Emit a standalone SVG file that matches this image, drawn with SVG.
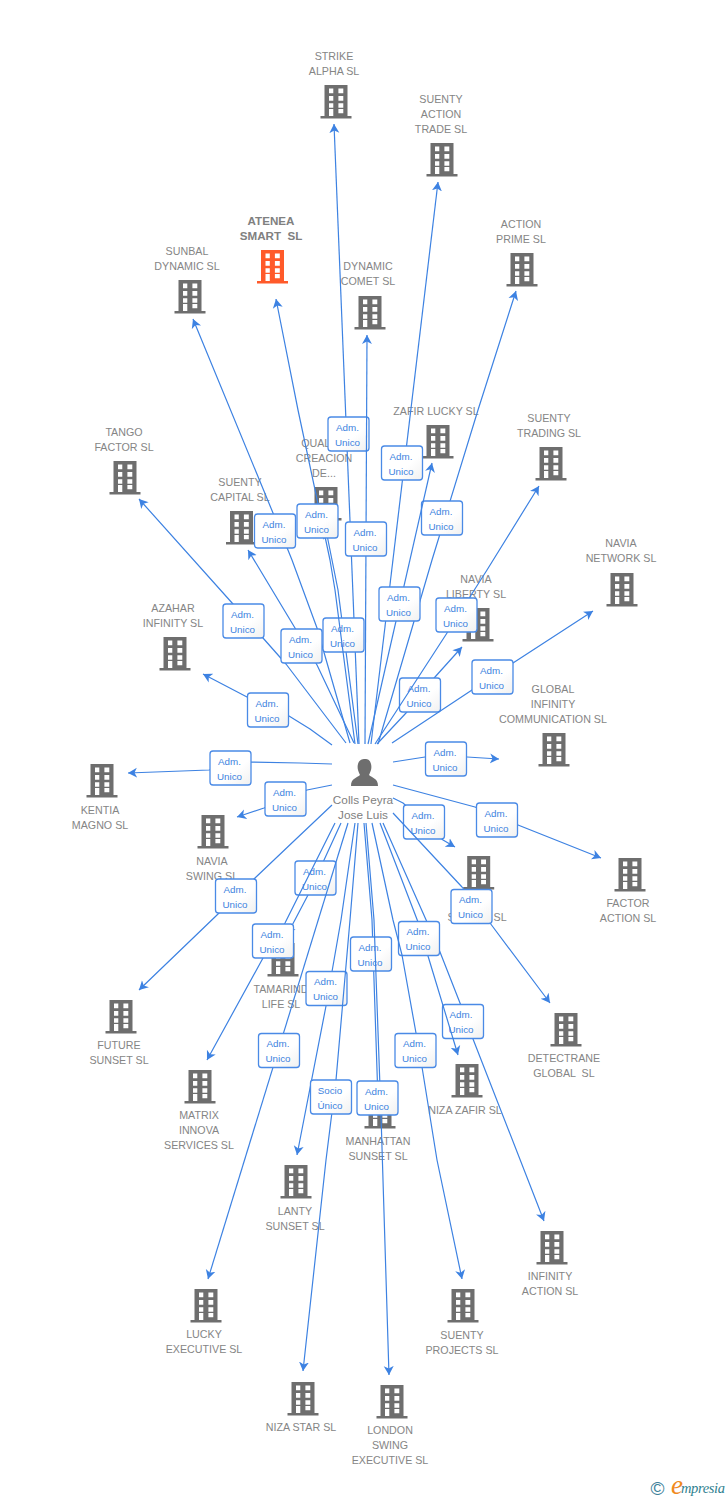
<svg xmlns="http://www.w3.org/2000/svg" width="728" height="1500" viewBox="0 0 728 1500">
<style>
text{font-family:"Liberation Sans",Arial,sans-serif}
.n{font-size:10.7px;fill:#858585;text-anchor:middle}
.b{font-size:11.6px;font-weight:bold;fill:#808080;text-anchor:middle;white-space:pre}
.d{font-size:10.7px;fill:#858585;text-anchor:middle;white-space:pre}
.p{font-size:11.8px;fill:#808080;text-anchor:middle}
.e{fill:none;stroke:#3d82e2;stroke-width:1.2;stroke-linejoin:round;marker-end:url(#a)}
.l rect{fill:url(#g);stroke:#4a8ae6;stroke-width:1.3}
.l text{font-size:9.8px;fill:#4083e0;text-anchor:middle}
.i{fill:#6e6e6e}
.o{fill:#ff5a2a}
</style>
<defs>
<marker id="a" markerUnits="userSpaceOnUse" markerWidth="12" markerHeight="12" viewBox="0 0 12 12" refX="9" refY="6" orient="auto"><path d="M9,6 L0,1 L2.5,6 L0,11 Z" fill="#3d82e2"/></marker>
<linearGradient id="g" x1="0" y1="0" x2="1" y2="1"><stop offset="0" stop-color="#fff"/><stop offset="0.6" stop-color="#fff"/><stop offset="1" stop-color="#f0f0f0"/></linearGradient>
<path id="h" fill-rule="evenodd" d="M-11.5,0H11.5V31H15.5V33.5H-15.5V31H-11.5ZM-7,3.5V8.3H-2.7V3.5ZM2.4,3.5V8.3H7.3V3.5ZM-7,11V15.7H-2.7V11ZM2.4,11V15.7H7.3V11ZM-7,18.3V22.7H-2.7V18.3ZM2.4,18.3V22.7H7.3V18.3ZM-7,24V31H-2.7V24ZM2.4,24V28.2H7.3V24Z"/>
</defs>
<rect width="728" height="1500" fill="#fff"/>
<g id="nodes">
<g id="n-strike"><use href="#h" class="i" x="336" y="85"/><text class="n" x="334" y="60">STRIKE</text><text class="n" x="334" y="75">ALPHA SL</text></g>
<g id="n-action-trade"><use href="#h" class="i" x="442" y="143"/><text class="n" x="441" y="103">SUENTY</text><text class="n" x="441" y="118">ACTION</text><text class="n" x="441" y="133">TRADE SL</text></g>
<g id="n-action-prime"><use href="#h" class="i" x="522" y="253"/><text class="n" x="521" y="228">ACTION</text><text class="n" x="521" y="243">PRIME SL</text></g>
<g id="n-atenea"><use href="#h" class="o" x="272.500" y="250"/><text class="b" x="271" y="225">ATENEA</text><text class="b" x="271" y="240">SMART  SL</text></g>
<g id="n-comet"><use href="#h" class="i" x="370" y="296"/><text class="n" x="368" y="270">DYNAMIC</text><text class="n" x="368" y="285">COMET SL</text></g>
<g id="n-sunbal"><use href="#h" class="i" x="190" y="280"/><text class="n" x="187" y="255">SUNBAL</text><text class="n" x="187" y="270">DYNAMIC SL</text></g>
<g id="n-zafir-lucky"><use href="#h" class="i" x="438" y="425"/><text class="n" x="436" y="415">ZAFIR LUCKY SL</text></g>
<g id="n-trading"><use href="#h" class="i" x="551" y="447"/><text class="n" x="549" y="422">SUENTY</text><text class="n" x="549" y="437">TRADING SL</text></g>
<g id="n-tango"><use href="#h" class="i" x="125" y="461"/><text class="n" x="124" y="436">TANGO</text><text class="n" x="124" y="451">FACTOR SL</text></g>
<g id="n-capital"><use href="#h" class="i" x="241.500" y="511"/><text class="n" x="240" y="486">SUENTY</text><text class="n" x="240" y="501">CAPITAL SL</text></g>
<g id="n-quality"><use href="#h" class="i" x="326" y="487"/><text class="n" x="324" y="447">QUALITY</text><text class="n" x="324" y="462">CREACION</text><text class="n" x="324" y="477">DE...</text></g>
<g id="n-network"><use href="#h" class="i" x="622" y="573"/><text class="n" x="621" y="547">NAVIA</text><text class="n" x="621" y="562">NETWORK SL</text></g>
<g id="n-liberty"><use href="#h" class="i" x="478" y="608"/><text class="n" x="476" y="583">NAVIA</text><text class="n" x="476" y="598">LIBERTY SL</text></g>
<g id="n-azahar"><use href="#h" class="i" x="175" y="637"/><text class="n" x="173" y="612">AZAHAR</text><text class="n" x="173" y="627">INFINITY SL</text></g>
<g id="n-global"><use href="#h" class="i" x="554" y="733"/><text class="n" x="553" y="693">GLOBAL</text><text class="n" x="553" y="708">INFINITY</text><text class="n" x="553" y="723">COMMUNICATION SL</text></g>
<g id="n-kentia"><use href="#h" class="i" x="102" y="764"/><text class="n" x="100" y="814">KENTIA</text><text class="n" x="100" y="829">MAGNO SL</text></g>
<g id="n-swing"><use href="#h" class="i" x="213" y="815"/><text class="n" x="212" y="865">NAVIA</text><text class="n" x="212" y="880">SWING SL</text></g>
<g id="n-factor"><use href="#h" class="i" x="630" y="858"/><text class="n" x="628" y="907">FACTOR</text><text class="n" x="628" y="922">ACTION SL</text></g>
<g id="n-suenty"><use href="#h" class="i" x="478.700" y="856"/><text class="n" x="477" y="921">SUENTY SL</text></g>
<g id="n-detectrane"><use href="#h" class="i" x="566" y="1013"/><text class="d" x="564" y="1062">DETECTRANE</text><text class="d" x="564" y="1077">GLOBAL  SL</text></g>
<g id="n-future"><use href="#h" class="i" x="121" y="1000"/><text class="n" x="119" y="1049">FUTURE</text><text class="n" x="119" y="1064">SUNSET SL</text></g>
<g id="n-matrix"><use href="#h" class="i" x="200" y="1070"/><text class="n" x="199" y="1119">MATRIX</text><text class="n" x="199" y="1134">INNOVA</text><text class="n" x="199" y="1149">SERVICES SL</text></g>
<g id="n-tamarind"><use href="#h" class="i" x="283" y="943"/><text class="n" x="281" y="993">TAMARIND</text><text class="n" x="281" y="1008">LIFE SL</text></g>
<g id="n-niza-zafir"><use href="#h" class="i" x="467" y="1064"/><text class="n" x="465" y="1114">NIZA ZAFIR SL</text></g>
<g id="n-manhattan"><use href="#h" class="i" x="380" y="1095"/><text class="n" x="378" y="1145">MANHATTAN</text><text class="n" x="378" y="1160">SUNSET SL</text></g>
<g id="n-lanty"><use href="#h" class="i" x="296" y="1165"/><text class="n" x="295" y="1215">LANTY</text><text class="n" x="295" y="1230">SUNSET SL</text></g>
<g id="n-infinity"><use href="#h" class="i" x="552" y="1231"/><text class="n" x="550" y="1280">INFINITY</text><text class="n" x="550" y="1295">ACTION SL</text></g>
<g id="n-lucky"><use href="#h" class="i" x="206" y="1289"/><text class="n" x="204" y="1338">LUCKY</text><text class="n" x="204" y="1353">EXECUTIVE SL</text></g>
<g id="n-projects"><use href="#h" class="i" x="463" y="1289"/><text class="n" x="462" y="1339">SUENTY</text><text class="n" x="462" y="1354">PROJECTS SL</text></g>
<g id="n-niza-star"><use href="#h" class="i" x="303" y="1382"/><text class="n" x="301" y="1431">NIZA STAR SL</text></g>
<g id="n-london"><use href="#h" class="i" x="392" y="1385"/><text class="n" x="390" y="1434">LONDON</text><text class="n" x="390" y="1449">SWING</text><text class="n" x="390" y="1464">EXECUTIVE SL</text></g>
<g id="n-person"><path class="i" d="M351,786C351,778 357,778 360,775C358,771 357,768 358,764C359,760 362,759 365,759C368,759 370,760 371,764C372,768 371,771 369,775C372,778 378,778 378,786Z"/><text class="p" x="363" y="804">Colls Peyra</text><text class="p" x="363" y="819">Jose Luis</text></g>
</g>
<g id="connectors">
<path class="e" d="M359,744L334,124"/>
<g class="l"><rect x="328" y="417" width="41" height="34" rx="3"/><text x="347.500" y="430.500">Adm.</text><text x="347.500" y="445.500">Unico</text></g>
<path class="e" d="M371,744L438,182"/>
<g class="l"><rect x="381.500" y="446" width="41" height="34" rx="3"/><text x="401" y="459.500">Adm.</text><text x="401" y="474.500">Unico</text></g>
<path class="e" d="M378,744L432,560L478,410L516,291"/>
<g class="l"><rect x="421.500" y="501" width="41" height="34" rx="3"/><text x="441" y="514.500">Adm.</text><text x="441" y="529.500">Unico</text></g>
<path class="e" d="M350,743L317,628L292,560L273,513L193,319"/>
<g class="l"><rect x="254.500" y="514" width="41" height="34" rx="3"/><text x="274" y="527.500">Adm.</text><text x="274" y="542.500">Unico</text></g>
<path class="e" d="M365,744L367,335"/>
<g class="l"><rect x="345.500" y="522" width="41" height="34" rx="3"/><text x="365" y="535.500">Adm.</text><text x="365" y="550.500">Unico</text></g>
<path class="e" d="M368,744L432,463"/>
<g class="l"><rect x="379" y="587" width="41" height="34" rx="3"/><text x="398.500" y="600.500">Adm.</text><text x="398.500" y="615.500">Unico</text></g>
<path class="e" d="M346,743L286,664L263,638L233,604L139,499"/>
<g class="l"><rect x="223" y="604" width="41" height="34" rx="3"/><text x="242.500" y="617.500">Adm.</text><text x="242.500" y="632.500">Unico</text></g>
<path class="e" d="M354,743L317,665L295,628L248,550"/>
<g class="l"><rect x="281" y="629" width="41" height="34" rx="3"/><text x="300.500" y="642.500">Adm.</text><text x="300.500" y="657.500">Unico</text></g>
<path class="e" d="M358,744L338,590L326,530"/>
<g class="l"><rect x="323" y="618" width="41" height="34" rx="3"/><text x="342.500" y="631.500">Adm.</text><text x="342.500" y="646.500">Unico</text></g>
<path class="e" d="M355,744L335,590L330,560L298,410L276,299"/>
<g class="l"><rect x="297" y="504" width="41" height="34" rx="3"/><text x="316.500" y="517.500">Adm.</text><text x="316.500" y="532.500">Unico</text></g>
<path class="e" d="M377,744L406,713L435,677L462,647"/>
<g class="l"><rect x="399.500" y="678" width="41" height="34" rx="3"/><text x="419" y="691.500">Adm.</text><text x="419" y="706.500">Unico</text></g>
<path class="e" d="M375,744L447,633L487,570L539,486"/>
<g class="l"><rect x="436" y="598" width="41" height="34" rx="3"/><text x="455.500" y="611.500">Adm.</text><text x="455.500" y="626.500">Unico</text></g>
<path class="e" d="M392,743L472,690L513,663L593,611"/>
<g class="l"><rect x="472" y="660" width="41" height="34" rx="3"/><text x="491.500" y="673.500">Adm.</text><text x="491.500" y="688.500">Unico</text></g>
<path class="e" d="M332,745L310,729L289,716L247,697L203,674"/>
<g class="l"><rect x="247.500" y="693" width="41" height="34" rx="3"/><text x="267" y="706.500">Adm.</text><text x="267" y="721.500">Unico</text></g>
<path class="e" d="M393,762L425,757L467,757L499,759"/>
<g class="l"><rect x="425.500" y="742" width="41" height="34" rx="3"/><text x="445" y="755.500">Adm.</text><text x="445" y="770.500">Unico</text></g>
<path class="e" d="M332,764L300,763L250,762L209,770L128,773"/>
<g class="l"><rect x="210" y="751" width="41" height="34" rx="3"/><text x="229.500" y="764.500">Adm.</text><text x="229.500" y="779.500">Unico</text></g>
<path class="e" d="M332,785L307,790L264,808L237,817"/>
<g class="l"><rect x="265" y="782" width="41" height="34" rx="3"/><text x="284.500" y="795.500">Adm.</text><text x="284.500" y="810.500">Unico</text></g>
<path class="e" d="M393,785L475,807L518,825L601,858"/>
<g class="l"><rect x="476.500" y="803" width="41" height="34" rx="3"/><text x="496" y="816.500">Adm.</text><text x="496" y="831.500">Unico</text></g>
<path class="e" d="M393,798L403,803L443,840L455,847"/>
<g class="l"><rect x="403.500" y="805" width="41" height="34" rx="3"/><text x="423" y="818.500">Adm.</text><text x="423" y="833.500">Unico</text></g>
<path class="e" d="M393,813L462,887L490,923L550,1003"/>
<g class="l"><rect x="451" y="889.500" width="41" height="34" rx="3"/><text x="470.500" y="903">Adm.</text><text x="470.500" y="918">Unico</text></g>
<path class="e" d="M341,823L308,895L287,935"/>
<g class="l"><rect x="295" y="861" width="41" height="34" rx="3"/><text x="314.500" y="874.500">Adm.</text><text x="314.500" y="889.500">Unico</text></g>
<path class="e" d="M332,805L295,840L255,878L217,915L139,990"/>
<g class="l"><rect x="215.500" y="879" width="41" height="34" rx="3"/><text x="235" y="892.500">Adm.</text><text x="235" y="907.500">Unico</text></g>
<path class="e" d="M335,823L285,923L263,958L207,1060"/>
<g class="l"><rect x="252.500" y="924" width="41" height="34" rx="3"/><text x="272" y="937.500">Adm.</text><text x="272" y="952.500">Unico</text></g>
<path class="e" d="M383,823L427,922L440,952L460,1003L473,1039L544,1221"/>
<g class="l"><rect x="442.500" y="1004.500" width="41" height="34" rx="3"/><text x="461" y="1018">Adm.</text><text x="461" y="1033">Unico</text></g>
<path class="e" d="M380,823L418,922L428,956L458,1055"/>
<g class="l"><rect x="398.500" y="921.500" width="41" height="34" rx="3"/><text x="418" y="935">Adm.</text><text x="418" y="950">Unico</text></g>
<path class="e" d="M348,823L208,1279"/>
<g class="l"><rect x="258.500" y="1033.500" width="41" height="34" rx="3"/><text x="278" y="1047">Adm.</text><text x="278" y="1062">Unico</text></g>
<path class="e" d="M355,823L341,920L326,1006L297,1155"/>
<g class="l"><rect x="306" y="971.500" width="41" height="34" rx="3"/><text x="325.500" y="985">Adm.</text><text x="325.500" y="1000">Unico</text></g>
<path class="e" d="M372,823L393,920L402,955L416,1033L422,1067L437,1160L462,1279"/>
<g class="l"><rect x="395" y="1033.500" width="41" height="34" rx="3"/><text x="414.500" y="1047">Adm.</text><text x="414.500" y="1062">Unico</text></g>
<path class="e" d="M358,823L350,920L336,1080L326,1160L303,1371"/>
<g class="l"><rect x="310.500" y="1080" width="41" height="34" rx="3"/><text x="330" y="1093.500">Socio</text><text x="330" y="1108.500">Único</text></g>
<path class="e" d="M364,823L372,920L378,1100"/>
<g class="l"><rect x="350.500" y="937" width="41" height="34" rx="3"/><text x="370" y="950.500">Adm.</text><text x="370" y="965.500">Unico</text></g>
<path class="e" d="M366,823L374,920L381,1115L389,1375"/>
<g class="l"><rect x="357" y="1081" width="41" height="34" rx="3"/><text x="376.500" y="1094.500">Adm.</text><text x="376.500" y="1109.500">Unico</text></g>
</g>
<g id="logo">
<text x="650.500" y="1495" font-size="19" fill="#3d7f99">©</text>
<text x="671" y="1494" font-size="27" font-style="italic" style="font-family:'Liberation Serif',serif" fill="#f08a1d">e</text>
<text x="681" y="1493" font-size="14.500" font-style="italic" style="font-family:'Liberation Serif',serif" fill="#2f7f8f" textLength="44">mpresia</text>
</g>
</svg>
